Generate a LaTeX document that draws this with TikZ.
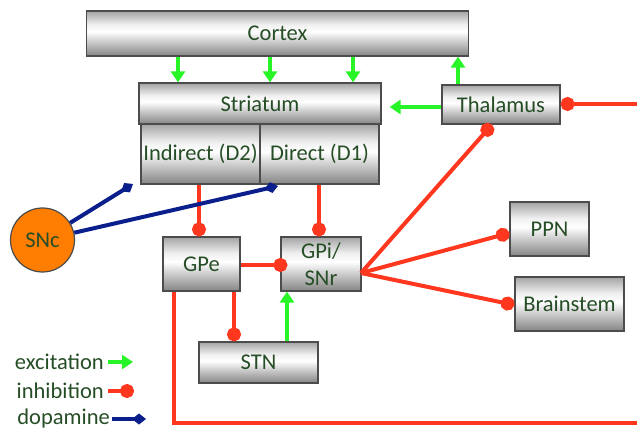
\documentclass[tikz,border=0pt]{standalone}
\usepackage{fontspec}
\setmainfont{Carlito}
\usetikzlibrary{arrows.meta,calc}
\definecolor{txt}{RGB}{38,78,38}
\definecolor{exgreen}{RGB}{40,245,40}
\definecolor{inred}{RGB}{255,55,30}
\definecolor{dblue}{RGB}{10,30,140}
\definecolor{sncor}{RGB}{255,125,0}
\pgfdeclareverticalshading{boxshade}{100bp}{color(0bp)=(black!48); color(25bp)=(black!48); color(40bp)=(black!22); color(52bp)=(white); color(60bp)=(black!6); color(75bp)=(black!36); color(100bp)=(black!36)}
\tikzset{
  gbox/.style={draw=black!70, line width=1.2pt, shading=boxshade, rectangle, inner sep=0pt,
    text=txt, font=\fontsize{22.5}{27}\selectfont, align=center},
  exc/.style={draw=exgreen, line width=3.5pt, -{Triangle[width=14pt,length=11pt]}},
  inh/.style={draw=inred, line width=4pt, -{Circle[length=14pt]}},
  dop/.style={draw=dblue, line width=4pt, -{Diamond[length=14pt,width=11pt]}},
  legtxt/.style={text=txt, font=\fontsize{22.5}{27}\selectfont, inner sep=0pt, anchor=east}
}
\begin{document}
\begin{tikzpicture}[x=1pt,y=-1pt]
\useasboundingbox (0,0) rectangle (637,430);
% boxes
\node[gbox, minimum width=382pt, minimum height=45pt] (cortex) at (277.5,33.5) {Cortex};
\node[gbox, minimum width=242pt, minimum height=41pt] (striatum) at (260,103.5) {Striatum};
\node[gbox, minimum width=119pt, minimum height=60pt] (indirect) at (200.5,154) {Indirect (D2)};
\node[gbox, minimum width=119pt, minimum height=60pt] (direct) at (319.5,154) {Direct (D1)};
\node[gbox, minimum width=118pt, minimum height=39pt] (thalamus) at (501,104.5) {Thalamus};
\node[gbox, minimum width=77pt, minimum height=54pt] (gpe) at (201.5,264) {GPe};
\node[gbox, minimum width=80pt, minimum height=54pt] (gpi) at (321,264) {GPi/\\SNr};
\node[gbox, minimum width=79pt, minimum height=54pt] (ppn) at (549.5,229) {PPN};
\node[gbox, minimum width=109pt, minimum height=54pt] (brainstem) at (569.5,304) {Brainstem};
\node[gbox, minimum width=119pt, minimum height=41pt] (stn) at (258.5,362.5) {STN};
\node[circle, draw=black!70, line width=1.2pt, fill=sncor, minimum size=64pt, inner sep=0pt,
  text=txt, font=\fontsize{22.5}{27}\selectfont] (snc) at (42.5,240) {SNc};
% coordinates
\coordinate (d2tip) at (133,184);
\coordinate (d1tip) at (278,186);
\coordinate (fan) at (361,273);
\coordinate (rightin) at (637,104);
\coordinate (corner) at (174,423);
\coordinate (rightout) at (637,423);
% excitation
\foreach \xx in {178,270,353}{
  \draw[exc] (cortex.south -| \xx,0) -- (striatum.north -| \xx,0);
}
\draw[exc] (thalamus.north -| 458,0) -- (cortex.south -| 458,0);
\draw[exc, shorten >=8pt] (thalamus.west |- 0,107) -- (striatum.east |- 0,107);
\draw[exc] (stn.north -| 287,0) -- (gpi.south -| 287,0);
% inhibition
\draw[inh] (indirect.south -| 199,0) -- (gpe.north -| 199,0);
\draw[inh] (direct.south -| 319,0) -- (gpi.north -| 319,0);
\draw[inh, shorten >=-7pt] (gpe.east |- 0,265) -- (gpi.west |- 0,265);
\draw[inh] (gpe.south -| 234,0) -- (stn.north -| 234,0);
\draw[inh] (fan) -- (ppn.west |- 0,233);
\draw[inh] (fan) -- (brainstem.west |- 0,305);
\draw[inh] (fan) -- (thalamus.south -| 492,0);
\draw[inh] (rightin) -- (thalamus.east |- rightin);
\draw[draw=inred, line width=4pt] (gpe.south -| corner) -- (corner) -- (rightout);
% dopamine
\draw[dop] (snc) -- (d2tip);
\draw[dop] (snc) -- (d1tip);
% legend
\node[legtxt] (lexc) at (104,362) {excitation};
\node[legtxt] (linh) at (104,391) {inhibition};
\node[legtxt] (ldop) at (110,419) {dopamine};
\coordinate (eexc) at (133,362);
\coordinate (einh) at (134,391);
\coordinate (edop) at (146,419);
\draw[exc] ([xshift=4pt]lexc.east) -- (eexc);
\draw[inh] ([xshift=4pt]linh.east) -- (einh);
\draw[dop] ([xshift=2pt]ldop.east) -- (edop);
\end{tikzpicture}
\end{document}
